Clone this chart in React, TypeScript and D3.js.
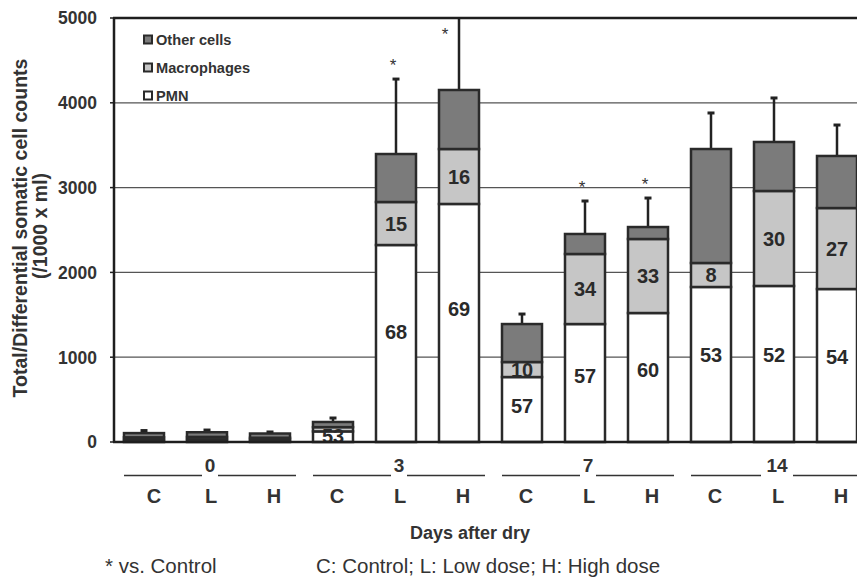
import React, { useRef, useEffect } from "react";
import * as d3 from "d3";

const days = ["0", "3", "7", "14"];
const doses = ["C", "L", "H"];
const pmn = [25, 30, 25, 125, 2323, 2807, 766, 1391, 1521, 1828, 1840, 1804];
const macrophages = [30, 30, 25, 50, 507, 648, 177, 826, 873, 283, 1120, 955];
const otherCells = [50, 55, 50, 61, 566, 696, 448, 236, 141, 1344, 578, 614];
const errorTop = [135, 141, 118, 283, 4280, 5300, 1509, 2842, 2877, 3880, 4057, 3738];
const pmnPct = [null, null, null, 53, 68, 69, 57, 57, 60, 53, 52, 54];
const macPct = [null, null, null, null, 15, 16, 10, 34, 33, 8, 30, 27];
const significant = [false, false, false, false, true, true, false, true, true, false, false, false];
const yTicks = [0, 1000, 2000, 3000, 4000, 5000];

const keys = ["pmn", "mac", "other"];
const colors = { pmn: "#ffffff", mac: "#c6c6c6", other: "#7b7b7b" };
const legendItems = [
  { key: "other", label: "Other cells" },
  { key: "mac", label: "Macrophages" },
  { key: "pmn", label: "PMN" },
];
const font = "'Liberation Sans', Arial, sans-serif";

function App() {
  const svgRef = useRef(null);

  useEffect(() => {
    const svg = d3.select(svgRef.current);
    svg.selectAll("*").remove();

    const rows = pmn.map((v, i) => ({
      i,
      pmn: v,
      mac: macrophages[i],
      other: otherCells[i],
      day: days[Math.floor(i / 3)],
      dose: doses[i % 3],
    }));

    const left = 114;
    const right = 857;
    const y = d3.scaleLinear().domain([0, 5000]).range([442, 18]);
    const x = d3
      .scaleBand()
      .domain(rows.map((r) => r.i))
      .range([112.5, 868.5])
      .paddingInner(0.365)
      .paddingOuter(0.1825);
    const bw = x.bandwidth();
    const cx = (i) => x(i) + bw / 2;

    svg
      .append("defs")
      .append("clipPath")
      .attr("id", "plot")
      .append("rect")
      .attr("x", left)
      .attr("y", y(5000))
      .attr("width", right - left + 20)
      .attr("height", y(0) - y(5000));

    // grid
    svg
      .append("g")
      .selectAll("line")
      .data(yTicks.filter((t) => t > 0 && t < 5000))
      .join("line")
      .attr("x1", left)
      .attr("x2", right)
      .attr("y1", (d) => y(d))
      .attr("y2", (d) => y(d))
      .attr("stroke", "#555")
      .attr("stroke-width", 1.3);

    // error bars
    const err = svg.append("g").attr("clip-path", "url(#plot)");
    rows.forEach((r) => {
      const total = r.pmn + r.mac + r.other;
      err
        .append("line")
        .attr("x1", cx(r.i))
        .attr("x2", cx(r.i))
        .attr("y1", y(total))
        .attr("y2", y(errorTop[r.i]))
        .attr("stroke", "#222")
        .attr("stroke-width", 2.5);
      if (errorTop[r.i] <= 5000) {
        err
          .append("line")
          .attr("x1", cx(r.i) - 3.5)
          .attr("x2", cx(r.i) + 3.5)
          .attr("y1", y(errorTop[r.i]))
          .attr("y2", y(errorTop[r.i]))
          .attr("stroke", "#222")
          .attr("stroke-width", 3);
      }
    });

    // stacked bars
    const series = d3.stack().keys(keys)(rows);
    svg
      .append("g")
      .selectAll("g")
      .data(series)
      .join("g")
      .attr("fill", (s) => colors[s.key])
      .selectAll("rect")
      .data((s) => s)
      .join("rect")
      .attr("x", (d) => x(d.data.i))
      .attr("width", bw)
      .attr("y", (d) => y(d[1]))
      .attr("height", (d) => y(d[0]) - y(d[1]))
      .attr("stroke", "#2a2a2a")
      .attr("stroke-width", 2.5);

    // percentage labels
    const labels = svg
      .append("g")
      .attr("font-family", font)
      .attr("font-weight", "bold")
      .attr("font-size", 20)
      .attr("fill", "#2a2a2a")
      .attr("text-anchor", "middle");
    rows.forEach((r) => {
      if (pmnPct[r.i] != null) {
        const h = y(0) - y(r.pmn);
        const my = (y(0) + y(r.pmn)) / 2 - h * 0.06;
        labels
          .append("text")
          .attr("x", cx(r.i))
          .attr("y", my)
          .attr("dy", "0.36em")
          .text(pmnPct[r.i]);
      }
      if (macPct[r.i] != null) {
        const my = (y(r.pmn) + y(r.pmn + r.mac)) / 2;
        labels
          .append("text")
          .attr("x", cx(r.i))
          .attr("y", my)
          .attr("dy", "0.36em")
          .text(macPct[r.i]);
      }
    });

    // significance stars
    svg
      .append("g")
      .selectAll("text")
      .data(rows.filter((r) => significant[r.i]))
      .join("text")
      .attr("x", (r) => (errorTop[r.i] > 5000 ? cx(r.i) - 14 : cx(r.i) - 3))
      .attr("y", (r) => (errorTop[r.i] > 5000 ? y(5000) + 22 : y(errorTop[r.i]) - 8))
      .attr("text-anchor", "middle")
      .attr("font-family", font)
      .attr("font-size", 17)
      .attr("fill", "#333")
      .text("*");

    // axes frame
    svg
      .append("line")
      .attr("x1", left - 1)
      .attr("x2", right)
      .attr("y1", y(5000))
      .attr("y2", y(5000))
      .attr("stroke", "#1e1e1e")
      .attr("stroke-width", 2.5);
    svg
      .append("line")
      .attr("x1", left - 1)
      .attr("x2", right)
      .attr("y1", y(0))
      .attr("y2", y(0))
      .attr("stroke", "#1e1e1e")
      .attr("stroke-width", 2.5);
    svg
      .append("line")
      .attr("x1", left)
      .attr("x2", left)
      .attr("y1", y(5000))
      .attr("y2", y(0))
      .attr("stroke", "#1e1e1e")
      .attr("stroke-width", 2.5);

    // y ticks
    const yt = svg
      .append("g")
      .attr("font-family", font)
      .attr("font-weight", "bold")
      .attr("font-size", 17.5)
      .attr("fill", "#333");
    yTicks.forEach((t) => {
      yt.append("line")
        .attr("x1", left - 4)
        .attr("x2", left)
        .attr("y1", y(t))
        .attr("y2", y(t))
        .attr("stroke", "#1e1e1e")
        .attr("stroke-width", 1.5);
      yt.append("text")
        .attr("x", 97)
        .attr("y", y(t))
        .attr("dy", "0.36em")
        .attr("text-anchor", "end")
        .text(t);
    });

    // y title
    svg
      .append("text")
      .attr("transform", "translate(27,228) rotate(-90)")
      .attr("text-anchor", "middle")
      .attr("font-family", font)
      .attr("font-weight", "bold")
      .attr("font-size", 19.5)
      .attr("fill", "#333")
      .text("Total/Differential somatic cell counts");
    svg
      .append("text")
      .attr("transform", "translate(47,226) rotate(-90)")
      .attr("text-anchor", "middle")
      .attr("font-family", font)
      .attr("font-weight", "bold")
      .attr("font-size", 19.5)
      .attr("fill", "#333")
      .text("(/1000 x ml)");

    // legend
    const lg = svg
      .append("g")
      .attr("font-family", font)
      .attr("font-weight", "bold")
      .attr("font-size", 14.6)
      .attr("fill", "#333");
    legendItems.forEach((item, k) => {
      const ly = 40 + k * 28;
      lg.append("rect")
        .attr("x", 144)
        .attr("y", ly - 4.5)
        .attr("width", 8)
        .attr("height", 8)
        .attr("fill", colors[item.key])
        .attr("stroke", "#2a2a2a")
        .attr("stroke-width", 2);
      lg.append("text")
        .attr("x", 156)
        .attr("y", ly)
        .attr("dy", "0.36em")
        .text(item.label);
    });

    // x category labels
    const xl = svg
      .append("g")
      .attr("font-family", font)
      .attr("font-weight", "bold")
      .attr("fill", "#333")
      .attr("text-anchor", "middle");
    rows.forEach((r) => {
      xl.append("text")
        .attr("x", cx(r.i) + (r.i === 0 ? 10 : 4))
        .attr("y", 496)
        .attr("dy", "0.36em")
        .attr("font-size", 20)
        .text(r.dose);
    });
    days.forEach((dLabel, g) => {
      const first = g * 3;
      const mid = g * 3 + 1;
      const last = g * 3 + 2;
      const mx = cx(mid) + 3;
      const gap = dLabel.length > 1 ? 16 : 8;
      xl.append("text")
        .attr("x", mx)
        .attr("y", 465)
        .attr("dy", "0.36em")
        .attr("font-size", 19)
        .text(dLabel);
      xl.append("line")
        .attr("x1", x(first))
        .attr("x2", mx - gap)
        .attr("y1", 475.5)
        .attr("y2", 475.5)
        .attr("stroke", "#333")
        .attr("stroke-width", 1.5);
      xl.append("line")
        .attr("x1", mx + gap)
        .attr("x2", Math.min(x(last) + bw + 6, right))
        .attr("y1", 475.5)
        .attr("y2", 475.5)
        .attr("stroke", "#333")
        .attr("stroke-width", 1.5);
    });

    svg
      .append("text")
      .attr("x", 470)
      .attr("y", 533)
      .attr("dy", "0.36em")
      .attr("text-anchor", "middle")
      .attr("font-family", font)
      .attr("font-weight", "bold")
      .attr("font-size", 18)
      .attr("fill", "#333")
      .text("Days after dry");

    svg
      .append("text")
      .attr("x", 105)
      .attr("y", 566)
      .attr("dy", "0.36em")
      .attr("font-family", font)
      .attr("font-size", 20.5)
      .attr("fill", "#333")
      .text("* vs. Control");
    svg
      .append("text")
      .attr("x", 316)
      .attr("y", 566)
      .attr("dy", "0.36em")
      .attr("font-family", font)
      .attr("font-size", 20.5)
      .attr("fill", "#333")
      .text("C: Control; L: Low dose; H: High dose");
  }, []);

  return (
    <div style={{ position: "absolute", left: 0, top: 0 }}>
      <svg ref={svgRef} width={857} height={579} style={{ display: "block", background: "#fff" }}></svg>
    </div>
  );
}

export default App;
